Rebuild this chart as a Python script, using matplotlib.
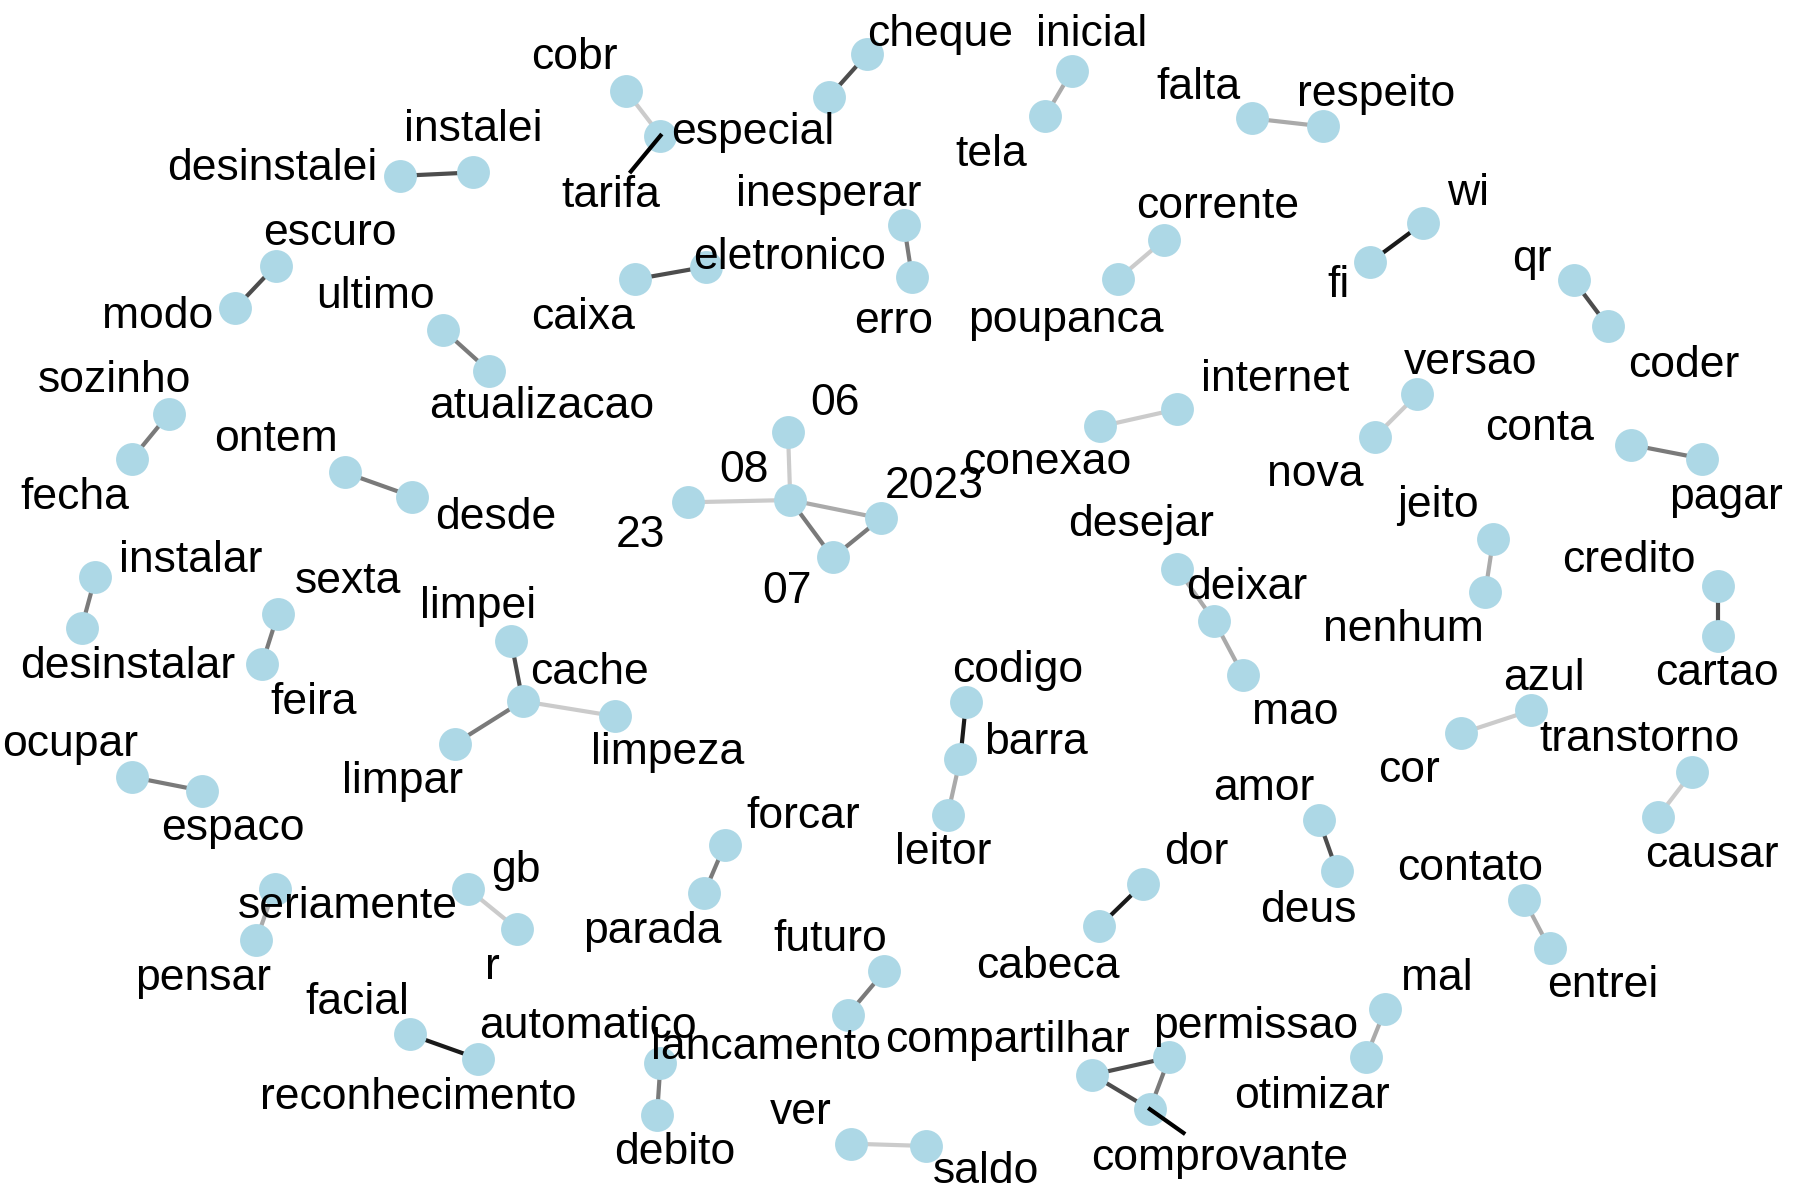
import matplotlib
matplotlib.use("Agg")
import matplotlib.pyplot as plt
import numpy as np

# layout das palavras (coordenadas do layout, y para baixo)
words = ["desinstalei", "instalei", "cobr", "tarifa", "cheque", "especial",
         "inicial", "tela", "falta", "respeito", "escuro", "modo",
         "caixa", "eletronico", "inesperar", "erro", "corrente", "poupanca",
         "wi", "fi", "qr", "coder", "ultimo", "atualizacao", "sozinho", "fecha",
         "ontem", "desde", "06", "08", "23", "2023", "07",
         "internet", "conexao", "versao", "nova", "conta", "pagar",
         "desejar", "deixar", "mao", "jeito", "nenhum", "credito", "cartao",
         "instalar", "desinstalar", "sexta", "feira",
         "limpei", "cache", "limpeza", "limpar",
         "codigo", "barra", "leitor", "azul", "cor", "transtorno", "causar",
         "ocupar", "espaco", "forcar", "parada", "amor", "deus",
         "seriamente", "pensar", "gb", "r", "dor", "cabeca", "contato", "entrei",
         "futuro", "lancamento", "facial", "reconhecimento", "automatico", "debito",
         "mal", "otimizar", "compartilhar", "permissao", "comprovante", "ver", "saldo"]

node_x = [348, 412, 545, 575, 755, 722,
          933, 910, 1090, 1152, 240, 205,
          553, 615, 787, 794, 1013, 973,
          1239, 1193, 1370, 1400, 386, 426, 147, 115,
          300, 359, 686, 688, 599, 767, 725,
          1025, 958, 1234, 1197, 1420, 1482,
          1025, 1057, 1082, 1300, 1293, 1496, 1496,
          83, 71, 242, 228,
          445, 455, 535, 396,
          841, 836, 825, 1333, 1272, 1473, 1443,
          115, 176, 631, 613, 1148, 1164,
          239, 223, 407, 450, 995, 957, 1327, 1349,
          770, 738, 357, 416, 575, 572,
          1206, 1189, 951, 1018, 1001, 741, 806]

node_y = [153, 150, 79, 118, 47, 84,
          62, 101, 103, 110, 231, 268,
          243, 232, 196, 241, 209, 243,
          194, 228, 244, 284, 287, 323, 360, 399,
          411, 432, 376, 435, 437, 451, 485,
          356, 371, 343, 380, 387, 399,
          495, 540, 587, 469, 515, 510, 553,
          502, 546, 534, 578,
          558, 610, 623, 647,
          611, 660, 709, 618, 638, 672, 711,
          676, 688, 735, 777, 713, 758,
          773, 818, 773, 808, 769, 806, 783, 825,
          845, 883, 900, 921, 925, 970,
          878, 920, 935, 920, 965, 995, 997]

# posicao dos rotulos (repel)
label_x = [237, 412, 500, 532, 818, 655,
           950, 863, 1043, 1198, 287, 137,
           508, 687, 721, 778, 1060, 928,
           1278, 1165, 1334, 1466, 327, 472, 100, 65,
           240, 432, 727, 648, 558, 813, 685,
           1110, 912, 1280, 1145, 1340, 1503,
           993, 1085, 1128, 1252, 1222, 1418, 1495,
           166, 111, 303, 273,
           416, 513, 581, 350,
           886, 902, 821, 1344, 1227, 1427, 1490,
           61, 203, 699, 568, 1100, 1139,
           303, 177, 449, 429, 1041, 912, 1280, 1395,
           723, 667, 311, 364, 512, 587,
           1251, 1142, 877, 1093, 1062, 697, 858]

label_y = [147, 113, 50, 170, 30, 115,
           30, 134, 76, 82, 203, 275,
           276, 224, 169, 280, 180, 279,
           168, 248, 226, 318, 258, 354, 331, 433,
           382, 450, 351, 409, 466, 423, 515,
           330, 402, 315, 413, 373, 433,
           456, 511, 620, 440, 548, 488, 586,
           488, 580, 506, 611,
           528, 585, 655, 680,
           583, 646, 742, 590, 670, 643, 744,
           648, 721, 710, 810, 686, 792,
           789, 851, 757, 842, 742, 841, 756, 857,
           817, 911, 872, 955, 893, 1003,
           851, 954, 905, 893, 1008, 968, 1019]

# bigramas e contagem (n)
edge_from = ["desinstalei", "cobr", "cheque", "inicial", "falta", "escuro",
             "caixa", "inesperar", "corrente", "wi", "qr", "ultimo", "sozinho",
             "ontem", "06", "23", "08", "08", "07", "internet", "versao",
             "conta", "desejar", "deixar", "jeito", "credito", "instalar",
             "sexta", "limpei", "cache", "cache", "codigo", "barra", "azul",
             "transtorno", "ocupar", "forcar", "amor", "seriamente", "gb",
             "dor", "contato", "futuro", "facial", "automatico", "mal",
             "compartilhar", "compartilhar", "permissao", "ver"]
edge_to = ["instalei", "tarifa", "especial", "tela", "respeito", "modo",
           "eletronico", "erro", "poupanca", "fi", "coder", "atualizacao", "fecha",
           "desde", "08", "08", "2023", "07", "2023", "conexao", "nova",
           "pagar", "deixar", "mao", "nenhum", "cartao", "desinstalar",
           "feira", "cache", "limpeza", "limpar", "barra", "leitor", "cor",
           "causar", "espaco", "parada", "deus", "pensar", "r",
           "cabeca", "entrei", "lancamento", "reconhecimento", "debito", "otimizar",
           "permissao", "comprovante", "comprovante", "saldo"]
edge_n = [4, 1, 4, 2, 2, 4,
          4, 3, 1, 5, 4, 3, 3,
          3, 1, 1, 2, 3, 3, 1, 1,
          3, 2, 2, 2, 4, 3,
          3, 4, 1, 3, 5, 2, 1,
          1, 3, 3, 4, 2, 1,
          5, 2, 3, 5, 3, 2,
          4, 4, 3, 1]

# rotulos com segmento (ggrepel)
leader_words = ["tarifa", "comprovante"]
leader_frac = [0.6, 0.48]

plt.rcParams["font.family"] = ["Liberation Sans", "DejaVu Sans"]

fig = plt.figure(figsize=(18, 12), dpi=100)
ax = fig.add_axes([0, 0, 1, 1])
ax.set_xlim(0, 1567)
ax.set_ylim(1044, 0)
ax.axis("off")

idx = {w: i for i, w in enumerate(words)}
greys = {1: "#cbcbcb", 2: "#aaaaaa", 3: "#7a7a7a", 4: "#4d4d4d", 5: "#1a1a1a"}

for a, b, n in zip(edge_from, edge_to, edge_n):
    i, j = idx[a], idx[b]
    ax.plot([node_x[i], node_x[j]], [node_y[i], node_y[j]],
            color=greys[n], lw=3.0, solid_capstyle="butt", zorder=1)

ax.scatter(node_x, node_y, s=560, color="lightblue", linewidths=0, zorder=2)

for w, f in zip(leader_words, leader_frac):
    i = idx[w]
    x0, y0 = node_x[i], node_y[i]
    x1 = x0 + f * (label_x[i] - x0)
    y1 = y0 + f * (label_y[i] - y0)
    ax.plot([x0, x1], [y0, y1], color="black", lw=3.0, zorder=3)

for w, lx, ly in zip(words, label_x, label_y):
    ax.text(lx, ly, w, ha="center", va="center", fontsize=32,
            color="black", zorder=4)

fig.savefig("out.png", dpi=100, facecolor="white")
